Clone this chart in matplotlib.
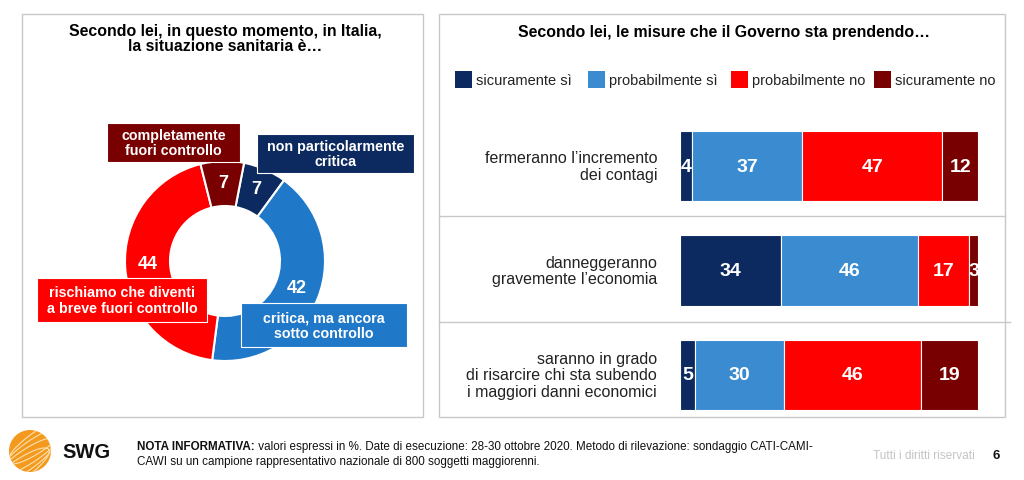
import numpy as np
import matplotlib
matplotlib.use("Agg")
import matplotlib.pyplot as plt
from matplotlib.patches import Rectangle, Circle, Ellipse

plt.rcParams['font.family'] = ['Liberation Sans', 'DejaVu Sans']

# ---- data ----
donut_labels = ["non particolarmente\ncritica", "critica, ma ancora\nsotto controllo",
                "rischiamo che diventi\na breve fuori controllo", "completamente\nfuori controllo"]
donut_values = [7, 42, 44, 7]
donut_colors = ["#0c2a5f", "#1f78c8", "#ff0000", "#780000"]

bar_categories = ["fermeranno l’incremento\ndei contagi",
                  "danneggeranno\ngravemente l’economia",
                  "saranno in grado\ndi risarcire chi sta subendo\ni maggiori danni economici"]
series_names = ["sicuramente sì", "probabilmente sì", "probabilmente no", "sicuramente no"]
sicuramente_si = [4, 34, 5]
probabilmente_si = [37, 46, 30]
probabilmente_no = [47, 17, 46]
sicuramente_no = [12, 3, 19]
bar_colors = ["#0c2a5f", "#3a8bd0", "#ff0000", "#780000"]

W, H = 1024, 481
fig = plt.figure(figsize=(W / 100, H / 100), dpi=100)
fig.patch.set_facecolor("white")

# background axes in pixel coordinates
bg = fig.add_axes([0, 0, 1, 1])
bg.set_xlim(0, W)
bg.set_ylim(H, 0)
bg.axis("off")

grey = "#c8c8c8"
bg.add_patch(Rectangle((22, 15), 401, 403, fill=False, ec=grey, lw=1))
bg.add_patch(Rectangle((439, 15), 566, 403, fill=False, ec=grey, lw=1))
bg.plot([439, 1005], [217, 217], color=grey, lw=1)
bg.plot([439, 1010], [323, 323], color=grey, lw=1)

bg.text(225, 39, "Secondo lei, in questo momento, in Italia,\nla situazione sanitaria è…",
        ha="center", va="center", fontsize=11.4, fontweight="bold", linespacing=1.08)
bg.text(724, 33, "Secondo lei, le misure che il Governo sta prendendo…",
        ha="center", va="center", fontsize=11.4, fontweight="bold")

# legend
leg_x = [455, 588, 731, 874]
for x, name, c in zip(leg_x, series_names, bar_colors):
    bg.add_patch(Rectangle((x, 72), 17, 17, color=c, lw=0))
    bg.text(x + 21, 81, name, ha="left", va="center", fontsize=10.5, color="#222222")

# ---- donut ----
cx, cy, R = 225, 262, 100
dax = fig.add_axes([(cx - 110) / W, (H - cy - 110) / H, 220 / W, 220 / H])
wedges, _ = dax.pie(donut_values, colors=donut_colors, startangle=79, counterclock=False,
                    radius=1, wedgeprops=dict(width=0.45, edgecolor="white", linewidth=1.5))
dax.set_xlim(-1.1, 1.1)
dax.set_ylim(-1.1, 1.1)
dax.axis("off")
for w, v in zip(wedges, donut_values):
    ang = np.deg2rad((w.theta1 + w.theta2) / 2)
    dax.text(0.77 * np.cos(ang), 0.77 * np.sin(ang) + 0.02, str(v), ha="center", va="center",
             color="white", fontsize=13, fontweight="bold")

boxes = [(257, 135, 157, 39), (241, 304, 166, 44), (37, 279, 170, 44), (107, 124, 133, 39)]
for (bx, by, bw, bh), lab, c in zip(boxes, donut_labels, donut_colors):
    dax.add_patch(Rectangle((bx, by), bw, bh, facecolor=c, edgecolor="white", lw=0.8,
                            transform=bg.transData, clip_on=False, zorder=5))
    dax.text(bx + bw / 2, by + bh / 2, lab, ha="center", va="center", color="white",
             fontsize=10.3, fontweight="bold", linespacing=1.1,
             transform=bg.transData, clip_on=False, zorder=6)

# ---- stacked bars ----
bx0, bx1 = 680, 978
y0, step = 167, 104.5
bax = fig.add_axes([bx0 / W, (H - (y0 + 2.5 * step)) / H, (bx1 - bx0) / W, 3 * step / H])
bax.set_xlim(0, 100)
bax.set_ylim(2.5, -0.5)
bax.axis("off")
ypos = np.arange(len(bar_categories))
left = np.zeros(len(bar_categories))
for vals, c in zip([sicuramente_si, probabilmente_si, probabilmente_no, sicuramente_no], bar_colors):
    vals = np.array(vals, dtype=float)
    bax.barh(ypos, vals, left=left, height=0.67, color=c, edgecolor="white", linewidth=0.8)
    for y, l, v in zip(ypos, left, vals):
        bax.text(l + v / 2, y, f"{v:.0f}", ha="center", va="center", color="white",
                 fontsize=14, fontweight="bold", clip_on=False)
    left += vals
for y, lab in zip(ypos, bar_categories):
    bax.text(-7.7, y, lab, ha="right", va="center", fontsize=11.5, color="#222222",
             linespacing=1.1)

# ---- footer ----
globe = Circle((30, 452), 21, facecolor="#f39a1e", edgecolor="none")
bg.add_patch(globe)
for k in range(4):
    e = Ellipse((18 + 7 * k, 472 - 10 * k), 75, 20, angle=-35, fill=False,
                ec="#fde0b0", lw=0.8)
    bg.add_patch(e)
    e.set_clip_path(globe)
bg.text(62, 453, "SWG", ha="left", va="center", fontsize=14.5, fontweight="bold", color="#111111")

t1 = bg.text(137, 447, "NOTA INFORMATIVA:", ha="left", va="center", fontsize=8.4,
             fontweight="bold", color="#111111")
bg.annotate(" valori espressi in %. Date di esecuzione: 28-30 ottobre 2020. Metodo di rilevazione: sondaggio CATI-CAMI-",
            xy=(1, 0.5), xycoords=t1, ha="left", va="center", fontsize=8.4, color="#111111")
bg.text(137, 462, "CAWI su un campione rappresentativo nazionale di 800 soggetti maggiorenni.",
        ha="left", va="center", fontsize=8.4, color="#111111")
bg.text(975, 456, "Tutti i diritti riservati", ha="right", va="center", fontsize=8.6, color="#c4c4c4")
bg.text(996, 456, "6", ha="center", va="center", fontsize=9.5, fontweight="bold", color="#111111")

fig.savefig("out.png", dpi=100, facecolor="white")
